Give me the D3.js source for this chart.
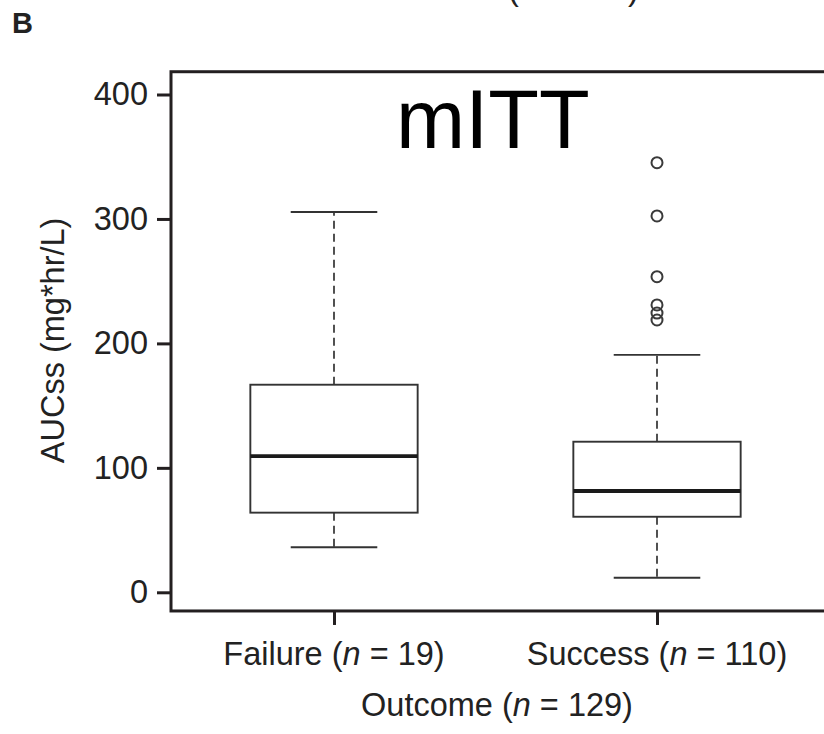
<!DOCTYPE html>
<html><head><meta charset="utf-8">
<script src="https://cdn.jsdelivr.net/npm/d3@7"></script>
<style>
html,body{margin:0;padding:0;background:#fff;}
svg text{font-family:"Liberation Sans",Arial,Helvetica,sans-serif;fill:#222;}
</style></head>
<body>
<svg id="chart" width="824" height="734"></svg>
<script>
// ---- data ----
const categories = ["Failure", "Success"];
const groupN = [19, 110];
const totalN = 129;
const q1 = [64.0, 60.7];
const medians = [109.4, 81.4];
const q3 = [166.8, 121.0];
const whiskerLow = [36.2, 11.7];
const whiskerHigh = [305.6, 190.7];
const outliersSuccess = [345.2, 302.4, 253.6, 230.9, 224.4, 218.8];
const outliers = [[], outliersSuccess];
const yTicks = [0, 100, 200, 300, 400];

const svg = d3.select("#chart");
const y = d3.scaleLinear().domain([0, 400]).range([592.3, 94.5]);
const x = d3.scaleLinear().domain([1, 2]).range([334, 657]);

const frameLeft = x(0.5) - 1.5, frameRight = 840;
const frameTop = y(418.3), frameBottom = y(-15);
const fs = "32.5px";

// frame
svg.append("rect")
  .attr("x", frameLeft).attr("y", frameTop)
  .attr("width", frameRight - frameLeft).attr("height", frameBottom - frameTop)
  .attr("fill", "none").attr("stroke", "#231f20").attr("stroke-width", 3);

// y axis
const yAxis = d3.axisLeft(y).tickValues(yTicks).tickSize(14).tickPadding(9);
const gy = svg.append("g").attr("transform", `translate(${frameLeft},0)`).call(yAxis);
gy.select(".domain").remove();
gy.selectAll(".tick line").attr("stroke", "#231f20").attr("stroke-width", 3);
gy.selectAll(".tick text").style("font-size", fs).attr("fill", "#222")
  .style("font-family", '"Liberation Sans",Arial,sans-serif');

// x axis
const xAxis = d3.axisBottom(x).tickValues([1, 2]).tickSize(14).tickFormat(() => "");
const gx = svg.append("g").attr("transform", `translate(0,${frameBottom})`).call(xAxis);
gx.select(".domain").remove();
gx.selectAll(".tick line").attr("stroke", "#231f20").attr("stroke-width", 3);

// x tick labels with italic n
categories.forEach((c, i) => {
  const t = svg.append("text").attr("x", x(i + 1)).attr("y", 665)
    .attr("text-anchor", "middle").style("font-size", fs);
  t.append("tspan").text(c + " (");
  t.append("tspan").style("font-style", "italic").text("n");
  t.append("tspan").text(" = " + groupN[i] + ")");
});

function outcomeLabel(yy, cx) {
  const t = svg.append("text").attr("x", cx).attr("y", yy)
    .attr("text-anchor", "middle").style("font-size", fs);
  t.append("tspan").text("Outcome (");
  t.append("tspan").style("font-style", "italic").text("n");
  t.append("tspan").text(" = " + totalN + ")");
}
outcomeLabel(716, 497);
outcomeLabel(0, 503);

// y label
svg.append("text")
  .attr("transform", `translate(64,${(y(0)+y(400))/2 - 3}) rotate(-90)`)
  .attr("text-anchor", "middle").style("font-size", fs)
  .text("AUCss (mg*hr/L)");

// panel letter
svg.append("text").attr("x", 12).attr("y", 33)
  .style("font-size", "29px").style("font-weight", "bold").text("B");

// mITT
svg.append("text").attr("x", 396).attr("y", 148)
  .style("font-size", "83px").style("fill", "#000").text("mITT");

// boxes
const halfW = 0.259, capHalf = 0.134;
const boxStroke = "#333";
categories.forEach((c, i) => {
  const cx = x(i + 1);
  const g = svg.append("g");
  g.append("line").attr("x1", cx).attr("x2", cx).attr("y1", y(q3[i])).attr("y2", y(whiskerHigh[i]))
    .attr("stroke", boxStroke).attr("stroke-width", 1.7).attr("stroke-dasharray", "8,5");
  g.append("line").attr("x1", cx).attr("x2", cx).attr("y1", y(q1[i])).attr("y2", y(whiskerLow[i]))
    .attr("stroke", boxStroke).attr("stroke-width", 1.7).attr("stroke-dasharray", "8,5");
  [whiskerHigh[i], whiskerLow[i]].forEach(v => {
    g.append("line").attr("x1", x(i + 1 - capHalf)).attr("x2", x(i + 1 + capHalf))
      .attr("y1", y(v)).attr("y2", y(v)).attr("stroke", boxStroke).attr("stroke-width", 1.8);
  });
  g.append("rect").attr("x", x(i + 1 - halfW)).attr("y", y(q3[i]))
    .attr("width", x(i + 1 + halfW) - x(i + 1 - halfW)).attr("height", y(q1[i]) - y(q3[i]))
    .attr("fill", "#fff").attr("stroke", boxStroke).attr("stroke-width", 1.9);
  g.append("line").attr("x1", x(i + 1 - halfW)).attr("x2", x(i + 1 + halfW))
    .attr("y1", y(medians[i])).attr("y2", y(medians[i]))
    .attr("stroke", "#1a1a1a").attr("stroke-width", 3.8);
  g.selectAll("circle").data(outliers[i]).join("circle")
    .attr("cx", cx).attr("cy", d => y(d)).attr("r", 5.5)
    .attr("fill", "none").attr("stroke", "#3a3a3a").attr("stroke-width", 2);
});
</script>
</body></html>
